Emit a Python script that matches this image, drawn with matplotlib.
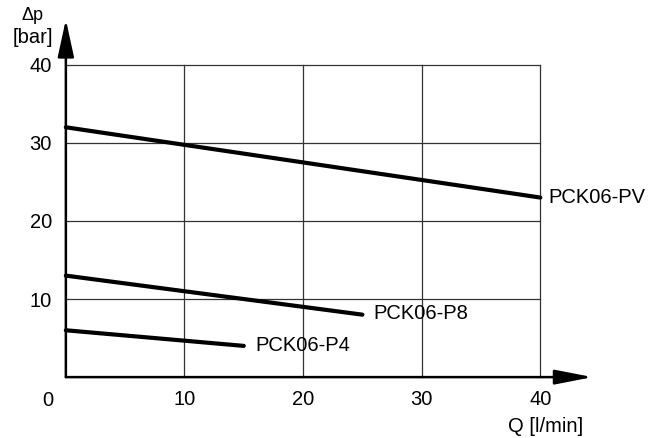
import matplotlib.pyplot as plt

plt.rcParams['font.family'] = ['Liberation Sans', 'DejaVu Sans']

# flow Q [l/min] and pressure drop dp [bar] for each valve
q_pv = [0, 40]
dp_pv = [32, 23]
q_p8 = [0, 25]
dp_p8 = [13, 8]
q_p4 = [0, 15]
dp_p4 = [6, 4]
names = ['PCK06-PV', 'PCK06-P8', 'PCK06-P4']

xticks = [10, 20, 30, 40]
yticks = [10, 20, 30, 40]

fs = 14.5

fig = plt.figure(figsize=(6.72, 4.38), dpi=100)
ax = fig.add_axes([0.098, 0.139, 0.706, 0.713])
ax.set_xlim(0, 40)
ax.set_ylim(0, 40)

# grid and thin frame
for v in xticks:
    ax.axvline(v, color='#333333', lw=0.9, zorder=1, clip_on=False)
for v in yticks:
    ax.axhline(v, color='#333333', lw=0.9, zorder=1, clip_on=False)
for s in ax.spines.values():
    s.set_visible(False)

ax.set_xticks(xticks)
ax.set_yticks(yticks)
ax.set_xticklabels([str(v) for v in xticks], fontsize=fs)
ax.set_yticklabels([str(v) for v in yticks], fontsize=fs)
ax.tick_params(axis='x', length=0, pad=9)
ax.tick_params(axis='y', length=0, pad=10)
ax.text(-1.56, -2.95, '0', fontsize=fs, ha='center', va='center')

# curves
for q, dp in [(q_pv, dp_pv), (q_p8, dp_p8), (q_p4, dp_p4)]:
    ax.plot(q, dp, color='black', lw=3, solid_capstyle='round', zorder=3, clip_on=False)

ax.text(40.7, 23, names[0], fontsize=fs, va='center', ha='left')
ax.text(25.9, 8.2, names[1], fontsize=fs, va='center', ha='left')
ax.text(16.0, 4.1, names[2], fontsize=fs, va='center', ha='left')

# axes with arrows
ax.annotate('', xy=(0, 45.8), xytext=(0, 0), annotation_clip=False,
            arrowprops=dict(arrowstyle='-|>,head_length=23,head_width=5', mutation_scale=1,
                            lw=1.8, color='black', shrinkA=0, shrinkB=0))
ax.annotate('', xy=(44.4, 0), xytext=(0, 0), annotation_clip=False,
            arrowprops=dict(arrowstyle='-|>,head_length=23,head_width=4.5', mutation_scale=1,
                            lw=1.8, color='black', shrinkA=0, shrinkB=0))

fig.text(33 / 672, 1 - 20 / 438, '\u0394p', fontsize=13, ha='center', va='baseline')
fig.text(32.5 / 672, 1 - 43 / 438, '[bar]', fontsize=fs, ha='center', va='baseline')
fig.text(546 / 672, 1 - 426 / 438, 'Q [l/min]', fontsize=fs, ha='center', va='center')

fig.savefig('out.png', dpi=100)
